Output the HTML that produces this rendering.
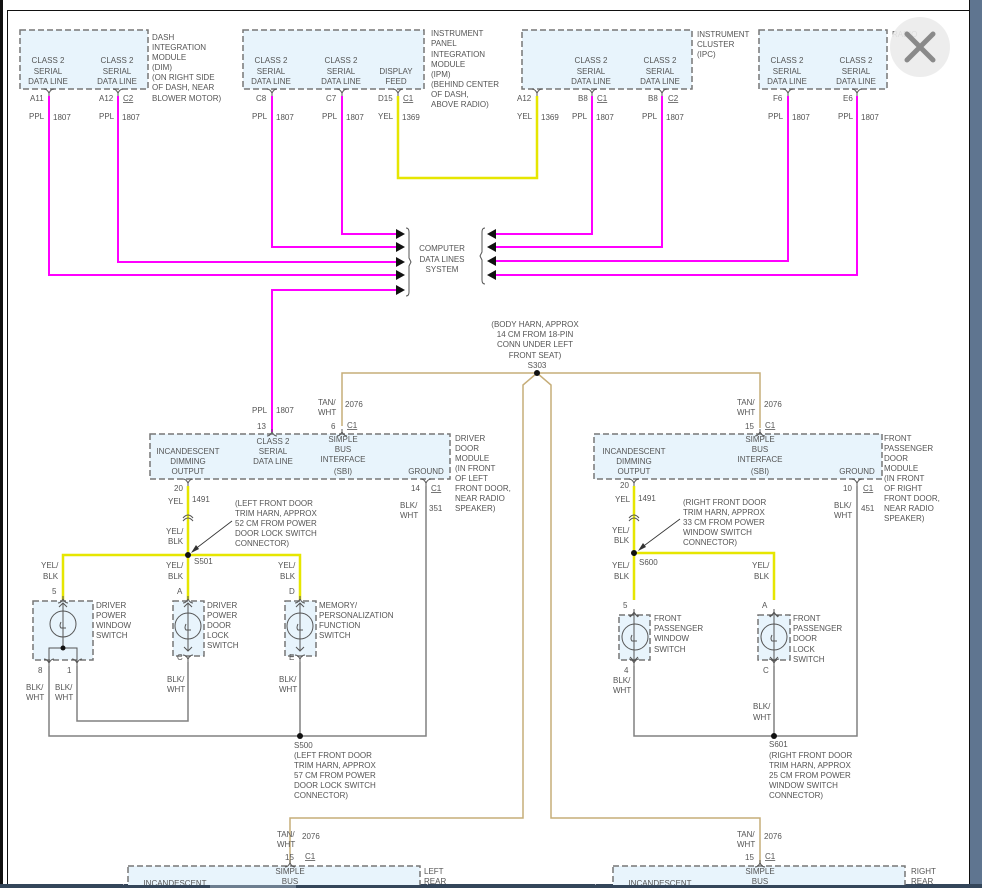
<!DOCTYPE html>
<html><head><meta charset="utf-8"><style>
html,body{margin:0;padding:0;background:#fff;width:982px;height:888px;overflow:hidden}
svg{display:block}
text{font-family:"Liberation Sans",sans-serif;font-size:8px;fill:#555}
.m{text-anchor:middle}
.bx{fill:#e8f4fc;stroke:#777;stroke-width:1.5;stroke-dasharray:6,3}
.pp{fill:none;stroke:#ff00ff;stroke-width:2}
.ye{fill:none;stroke:#e6e600;stroke-width:2.5}
.tn{fill:none;stroke:#c6ad78;stroke-width:1.5}
.gy{fill:none;stroke:#808080;stroke-width:1.5}
.cp{fill:none;stroke:#555;stroke-width:1}
</style></head><body>
<svg width="982" height="888" viewBox="0 0 982 888">
<defs>
<path id="cd" d="M-5,-1 Q-2,-1 0,3 Q2,-1 5,-1 M0,3 V6" class="cp"/>
<path id="cu" d="M-5,2 Q-2,2 0,-2 Q2,2 5,2 M0,-2 V-5" class="cp"/>
<polygon id="ar" points="0,0 -9,-5 -9,5" fill="#111"/>
<polygon id="al" points="0,0 9,-5 9,5" fill="#111"/>
</defs>
<!-- frame -->
<rect x="0" y="0" width="3" height="888" fill="#111"/>
<rect x="7" y="10" width="1" height="878" fill="#111"/>
<rect x="7" y="10" width="962" height="1" fill="#111"/>
<rect x="969" y="0" width="1" height="888" fill="#111"/>
<rect x="970" y="0" width="12" height="888" fill="#5f7590"/>
<rect x="0" y="884" width="982" height="4" fill="#34465a"/>
<rect x="210" y="884" width="86" height="4" fill="#6d7e90"/>
<rect x="123" y="884" width="1" height="4" fill="#aab"/>
<rect x="427" y="884" width="1" height="4" fill="#aab"/>
<rect x="595" y="884" width="1" height="4" fill="#aab"/>

<!-- top boxes -->
<rect class="bx" x="20" y="30" width="128" height="59"/>
<rect class="bx" x="243" y="30" width="181" height="59"/>
<rect class="bx" x="522" y="30" width="170" height="59"/>
<rect class="bx" x="759" y="30" width="128" height="59"/>
<g class="m">
<text x="48" y="63">CLASS 2</text><text x="48" y="74">SERIAL</text><text x="48" y="84">DATA LINE</text>
<text x="117" y="63">CLASS 2</text><text x="117" y="74">SERIAL</text><text x="117" y="84">DATA LINE</text>
<text x="271" y="63">CLASS 2</text><text x="271" y="74">SERIAL</text><text x="271" y="84">DATA LINE</text>
<text x="341" y="63">CLASS 2</text><text x="341" y="74">SERIAL</text><text x="341" y="84">DATA LINE</text>
<text x="396" y="74">DISPLAY</text><text x="396" y="84">FEED</text>
<text x="591" y="63">CLASS 2</text><text x="591" y="74">SERIAL</text><text x="591" y="84">DATA LINE</text>
<text x="660" y="63">CLASS 2</text><text x="660" y="74">SERIAL</text><text x="660" y="84">DATA LINE</text>
<text x="787" y="63">CLASS 2</text><text x="787" y="74">SERIAL</text><text x="787" y="84">DATA LINE</text>
<text x="856" y="63">CLASS 2</text><text x="856" y="74">SERIAL</text><text x="856" y="84">DATA LINE</text>
</g>
<g>
<text x="152" y="40">DASH</text><text x="152" y="50">INTEGRATION</text><text x="152" y="60">MODULE</text><text x="152" y="70">(DIM)</text><text x="152" y="80">(ON RIGHT SIDE</text><text x="152" y="90">OF DASH, NEAR</text><text x="152" y="101">BLOWER MOTOR)</text>
<text x="431" y="36">INSTRUMENT</text><text x="431" y="46">PANEL</text><text x="431" y="57">INTEGRATION</text><text x="431" y="67">MODULE</text><text x="431" y="77">(IPM)</text><text x="431" y="87">(BEHIND CENTER</text><text x="431" y="97">OF DASH,</text><text x="431" y="107">ABOVE RADIO)</text>
<text x="697" y="37">INSTRUMENT</text><text x="697" y="47">CLUSTER</text><text x="697" y="57">(IPC)</text>
</g>
<!-- top pin labels -->
<g>
<text x="30" y="101">A11</text><text x="99" y="101">A12</text><text x="123" y="101" text-decoration="underline">C2</text>
<text x="256" y="101">C8</text><text x="326" y="101">C7</text><text x="378" y="101">D15</text><text x="403" y="101" text-decoration="underline">C1</text>
<text x="517" y="101">A12</text><text x="578" y="101">B8</text><text x="597" y="101" text-decoration="underline">C1</text>
<text x="648" y="101">B8</text><text x="668" y="101" text-decoration="underline">C2</text>
<text x="773" y="101">F6</text><text x="843" y="101">E6</text>
<text x="29" y="119">PPL</text><text x="53" y="120">1807</text>
<text x="99" y="119">PPL</text><text x="122" y="120">1807</text>
<text x="252" y="119">PPL</text><text x="276" y="120">1807</text>
<text x="322" y="119">PPL</text><text x="346" y="120">1807</text>
<text x="378" y="119">YEL</text><text x="402" y="120">1369</text>
<text x="517" y="119">YEL</text><text x="541" y="120">1369</text>
<text x="572" y="119">PPL</text><text x="596" y="120">1807</text>
<text x="642" y="119">PPL</text><text x="666" y="120">1807</text>
<text x="768" y="119">PPL</text><text x="792" y="120">1807</text>
<text x="838" y="119">PPL</text><text x="861" y="120">1807</text>
</g>
<g>
<use href="#cd" x="49" y="90"/><use href="#cd" x="118" y="90"/><use href="#cd" x="272" y="90"/><use href="#cd" x="342" y="90"/><use href="#cd" x="398" y="90"/>
<use href="#cd" x="537" y="90"/><use href="#cd" x="592" y="90"/><use href="#cd" x="662" y="90"/><use href="#cd" x="788" y="90"/><use href="#cd" x="857" y="90"/>
</g>
<!-- magenta wires -->
<path class="pp" d="M49,96 V275 H398 M118,96 V262 H398 M272,96 V247 H398 M342,96 V234 H398 M398,290 H272 V432"/>
<path class="pp" d="M592,96 V234 H496 M662,96 V247 H496 M788,96 V261 H496 M857,96 V275 H496"/>
<path class="ye" d="M398,96 V178 H537 V96"/>
<use href="#ar" x="405" y="234"/><use href="#ar" x="405" y="247"/><use href="#ar" x="405" y="262"/><use href="#ar" x="405" y="275"/><use href="#ar" x="405" y="290"/>
<use href="#al" x="487" y="234"/><use href="#al" x="487" y="247"/><use href="#al" x="487" y="261"/><use href="#al" x="487" y="275"/>
<path d="M406,228 Q409,228 409,232 V258 L411,262 L409,266 V292 Q409,296 406,296" class="cp"/>
<path d="M485,228 Q482,228 482,232 V252 L480,256 L482,260 V280 Q482,284 485,284" class="cp"/>
<g class="m"><text x="442" y="251">COMPUTER</text><text x="442" y="262">DATA LINES</text><text x="442" y="272">SYSTEM</text>
<text x="535" y="327">(BODY HARN, APPROX</text><text x="535" y="337">14 CM FROM 18-PIN</text><text x="535" y="347">CONN UNDER LEFT</text><text x="535" y="358">FRONT SEAT)</text><text x="537" y="368">S303</text></g>

<!-- tan wires -->
<path class="tn" d="M342,426 V373 H760 V428"/>
<path class="tn" d="M537,373 L523,385 V818 H290 V864"/>
<path class="tn" d="M537,373 L551,385 V818 H760 V864"/>
<circle cx="537" cy="373" r="3" fill="#111"/>

<!-- driver door module -->
<text x="252" y="413">PPL</text><text x="276" y="413">1807</text>
<text x="318" y="405">TAN/</text><text x="318" y="415">WHT</text><text x="345" y="407">2076</text>
<text x="257" y="429">13</text><text x="331" y="429">6</text><text x="347" y="428" text-decoration="underline">C1</text>
<text x="737" y="405">TAN/</text><text x="737" y="415">WHT</text><text x="764" y="407">2076</text>
<text x="745" y="429">15</text><text x="765" y="428" text-decoration="underline">C1</text>
<rect class="bx" x="150" y="434" width="300" height="45"/>
<use href="#cu" x="272" y="434"/><use href="#cu" x="342" y="434"/>
<g class="m">
<text x="188" y="454">INCANDESCENT</text><text x="188" y="464">DIMMING</text><text x="188" y="474">OUTPUT</text>
<text x="273" y="444">CLASS 2</text><text x="273" y="454">SERIAL</text><text x="273" y="464">DATA LINE</text>
<text x="343" y="442">SIMPLE</text><text x="343" y="452">BUS</text><text x="343" y="462">INTERFACE</text><text x="343" y="474">(SBI)</text>
<text x="426" y="474">GROUND</text></g>
<g><text x="455" y="441">DRIVER</text><text x="455" y="451">DOOR</text><text x="455" y="461">MODULE</text><text x="455" y="471">(IN FRONT</text><text x="455" y="481">OF LEFT</text><text x="455" y="491">FRONT DOOR,</text><text x="455" y="501">NEAR RADIO</text><text x="455" y="511">SPEAKER)</text></g>
<use href="#cd" x="188" y="480"/><use href="#cd" x="426" y="480"/>
<text x="174" y="491">20</text><text x="411" y="491">14</text><text x="431" y="491" text-decoration="underline">C1</text>
<path class="ye" d="M188,486 V555 M63,600 V555 H300 V600 M188,555 V600"/>
<path d="M183,518 Q188,512 193,518 M183,521 Q188,515 193,521" class="cp"/>
<text x="168" y="504">YEL</text><text x="192" y="502">1491</text>
<text x="166" y="534">YEL/</text><text x="168" y="544">BLK</text>
<text x="235" y="506">(LEFT FRONT DOOR</text><text x="235" y="516">TRIM HARN, APPROX</text><text x="235" y="526">52 CM FROM POWER</text><text x="235" y="536">DOOR LOCK SWITCH</text><text x="235" y="546">CONNECTOR)</text>
<path d="M232,521 L194,550" stroke="#333" stroke-width="0.8"/><polygon points="191,553 196,545 199,549" fill="#333"/>
<circle cx="188" cy="555" r="3" fill="#111"/><text x="194" y="564">S501</text>
<text x="41" y="568">YEL/</text><text x="43" y="579">BLK</text>
<text x="166" y="568">YEL/</text><text x="168" y="579">BLK</text>
<text x="278" y="568">YEL/</text><text x="280" y="579">BLK</text>
<text x="52" y="594">5</text><text x="177" y="594">A</text><text x="289" y="594">D</text>
<text x="400" y="508">BLK/</text><text x="400" y="518">WHT</text><text x="429" y="511">351</text>
<!-- switches left -->
<rect class="bx" x="33" y="601" width="60" height="59"/>
<rect class="bx" x="173" y="601" width="31" height="55"/>
<rect class="bx" x="285" y="601" width="31" height="55"/>
<g class="cp" stroke-width="1">
<circle cx="63" cy="624" r="13"/><path d="M63,603 V648 M59,607 L63,603 L67,607 M49,662 V648 H77 V662 M61,622 Q59,626 61,628 H66"/>
<circle cx="188" cy="626" r="13"/><path d="M188,603 V651 M184,607 L188,603 L192,607 M184,647 L188,651 L192,647 M186,624 Q184,628 186,630 H191"/>
<circle cx="300" cy="626" r="13"/><path d="M300,603 V651 M296,607 L300,603 L304,607 M296,647 L300,651 L304,647 M298,624 Q296,628 298,630 H303"/>
</g>
<circle cx="63" cy="648" r="2.5" fill="#111"/>
<use href="#cu" x="63" y="601"/><use href="#cu" x="188" y="601"/><use href="#cu" x="300" y="601"/>
<use href="#cd" x="49" y="660"/><use href="#cd" x="77" y="660"/><use href="#cd" x="188" y="656"/><use href="#cd" x="300" y="656"/>
<g><text x="96" y="608">DRIVER</text><text x="96" y="618">POWER</text><text x="96" y="628">WINDOW</text><text x="96" y="638">SWITCH</text>
<text x="207" y="608">DRIVER</text><text x="207" y="618">POWER</text><text x="207" y="628">DOOR</text><text x="207" y="638">LOCK</text><text x="207" y="648">SWITCH</text>
<text x="319" y="608">MEMORY/</text><text x="319" y="618">PERSONALIZATION</text><text x="319" y="628">FUNCTION</text><text x="319" y="638">SWITCH</text>
<text x="38" y="673">8</text><text x="67" y="673">1</text><text x="177" y="660">C</text><text x="289" y="660">E</text>
<text x="26" y="690">BLK/</text><text x="26" y="700">WHT</text><text x="55" y="690">BLK/</text><text x="55" y="700">WHT</text>
<text x="167" y="682">BLK/</text><text x="167" y="692">WHT</text><text x="279" y="682">BLK/</text><text x="279" y="692">WHT</text></g>
<path class="gy" d="M426,486 V736 H49 V666 M77,666 V721 H188 V662 M300,662 V736"/>
<circle cx="300" cy="736" r="3" fill="#111"/>
<g><text x="294" y="748">S500</text><text x="294" y="758">(LEFT FRONT DOOR</text><text x="294" y="768">TRIM HARN, APPROX</text><text x="294" y="778">57 CM FROM POWER</text><text x="294" y="788">DOOR LOCK SWITCH</text><text x="294" y="798">CONNECTOR)</text></g>

<!-- passenger door module -->
<rect class="bx" x="594" y="434" width="288" height="45"/>
<use href="#cu" x="760" y="434"/>
<g class="m">
<text x="634" y="454">INCANDESCENT</text><text x="634" y="464">DIMMING</text><text x="634" y="474">OUTPUT</text>
<text x="760" y="442">SIMPLE</text><text x="760" y="452">BUS</text><text x="760" y="462">INTERFACE</text><text x="760" y="474">(SBI)</text>
<text x="857" y="474">GROUND</text></g>
<g><text x="884" y="441">FRONT</text><text x="884" y="451">PASSENGER</text><text x="884" y="461">DOOR</text><text x="884" y="471">MODULE</text><text x="884" y="481">(IN FRONT</text><text x="884" y="491">OF RIGHT</text><text x="884" y="501">FRONT DOOR,</text><text x="884" y="511">NEAR RADIO</text><text x="884" y="521">SPEAKER)</text></g>
<use href="#cd" x="634" y="480"/><use href="#cd" x="857" y="480"/>
<text x="620" y="488">20</text><text x="843" y="491">10</text><text x="863" y="491" text-decoration="underline">C1</text>
<path class="ye" d="M634,486 V600 M634,553 H774 V600"/>
<path d="M629,518 Q634,512 639,518 M629,521 Q634,515 639,521" class="cp"/>
<text x="615" y="502">YEL</text><text x="638" y="501">1491</text>
<text x="612" y="533">YEL/</text><text x="614" y="543">BLK</text>
<text x="683" y="505">(RIGHT FRONT DOOR</text><text x="683" y="515">TRIM HARN, APPROX</text><text x="683" y="525">33 CM FROM POWER</text><text x="683" y="535">WINDOW SWITCH</text><text x="683" y="545">CONNECTOR)</text>
<path d="M680,519 L641,548" stroke="#333" stroke-width="0.8"/><polygon points="638,551 643,543 646,547" fill="#333"/>
<circle cx="634" cy="553" r="3" fill="#111"/><text x="639" y="565">S600</text>
<text x="612" y="568">YEL/</text><text x="614" y="579">BLK</text>
<text x="752" y="568">YEL/</text><text x="754" y="579">BLK</text>
<text x="623" y="608">5</text><text x="762" y="608">A</text>
<text x="834" y="508">BLK/</text><text x="834" y="518">WHT</text><text x="861" y="511">451</text>
<rect class="bx" x="619" y="615" width="31" height="45"/>
<rect class="bx" x="758" y="615" width="32" height="45"/>
<g class="cp">
<circle cx="635" cy="637" r="13"/><path d="M634,613 V661 M630,617 L634,613 L638,617 M630,657 L634,661 L638,657 M632,635 Q630,639 632,641 H637"/>
<circle cx="774" cy="637" r="13"/><path d="M774,613 V661 M770,617 L774,613 L778,617 M770,657 L774,661 L778,657 M772,635 Q770,639 772,641 H777"/>
</g>
<use href="#cu" x="634" y="614"/><use href="#cu" x="774" y="614"/>
<use href="#cd" x="634" y="660"/><use href="#cd" x="774" y="660"/>
<g><text x="654" y="621">FRONT</text><text x="654" y="631">PASSENGER</text><text x="654" y="641">WINDOW</text><text x="654" y="652">SWITCH</text>
<text x="793" y="621">FRONT</text><text x="793" y="631">PASSENGER</text><text x="793" y="641">DOOR</text><text x="793" y="652">LOCK</text><text x="793" y="662">SWITCH</text>
<text x="624" y="673">4</text><text x="763" y="673">C</text>
<text x="613" y="683">BLK/</text><text x="613" y="693">WHT</text><text x="753" y="709">BLK/</text><text x="753" y="720">WHT</text></g>
<path class="gy" d="M857,486 V736 H634 V666 M774,666 V736"/>
<circle cx="774" cy="736" r="3" fill="#111"/>
<g><text x="769" y="747">S601</text><text x="769" y="758">(RIGHT FRONT DOOR</text><text x="769" y="768">TRIM HARN, APPROX</text><text x="769" y="778">25 CM FROM POWER</text><text x="769" y="788">WINDOW SWITCH</text><text x="769" y="798">CONNECTOR)</text></g>

<!-- rear modules -->
<text x="277" y="837">TAN/</text><text x="277" y="847">WHT</text><text x="302" y="839">2076</text>
<text x="285" y="860">15</text><text x="305" y="859" text-decoration="underline">C1</text>
<text x="737" y="837">TAN/</text><text x="737" y="847">WHT</text><text x="764" y="839">2076</text>
<text x="745" y="860">15</text><text x="765" y="859" text-decoration="underline">C1</text>
<rect class="bx" x="128" y="866" width="292" height="40"/>
<rect class="bx" x="613" y="866" width="292" height="40"/>
<use href="#cu" x="290" y="865"/><use href="#cu" x="760" y="865"/>
<g class="m"><text x="290" y="874">SIMPLE</text><text x="290" y="884">BUS</text><text x="175" y="886">INCANDESCENT</text>
<text x="760" y="874">SIMPLE</text><text x="760" y="884">BUS</text><text x="660" y="886">INCANDESCENT</text></g>
<text x="424" y="874">LEFT</text><text x="424" y="884">REAR</text>
<text x="911" y="874">RIGHT</text><text x="911" y="884">REAR</text>
<rect x="0" y="885" width="970" height="3" fill="#34465a"/>
<rect x="210" y="885" width="86" height="3" fill="#6d7e90"/>

<!-- radio box + close button -->
<text x="892" y="37">RADIO</text>
<circle cx="920" cy="47" r="30" fill="#ebebeb" opacity="0.9"/>
<path d="M907,34 L933,60 M933,34 L907,60" stroke="#8a8a8a" stroke-width="5" stroke-linecap="round"/>
</svg>
</body></html>
